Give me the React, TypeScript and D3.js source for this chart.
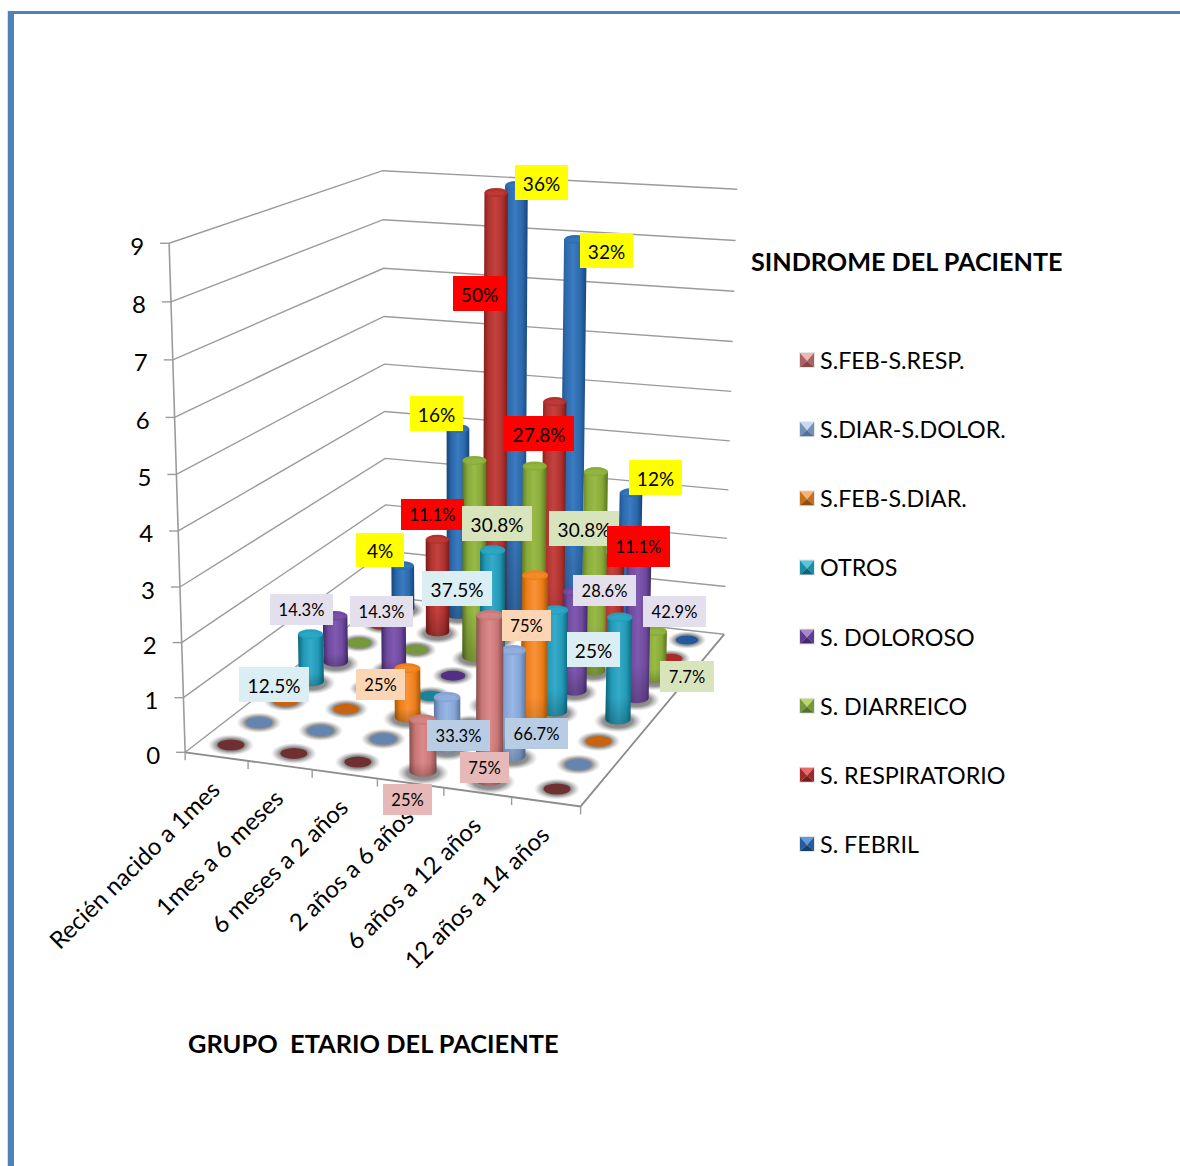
import React from "react";
import * as d3 from "d3";

// ---------- data ----------
const categories = ["Recién nacido a 1mes", "1mes a 6 meses", "6 meses a 2 años", "2 años a 6 años", "6 años a 12 años", "12 años a 14 años"];
const seriesNames = ["S.FEB-S.RESP.", "S.DIAR-S.DOLOR.", "S.FEB-S.DIAR.", "OTROS", "S. DOLOROSO", "S. DIARREICO", "S. RESPIRATORIO", "S. FEBRIL"];
const febResp = [0, 0, 0, 1, 3, 0];
const diarDolor = [0, 0, 0, 1, 2, 0];
const febDiar = [0, 0, 1, 0, 3, 0];
const otros = [1, 0, 0, 3, 2, 2];
const doloroso = [1, 1, 0, 0, 2, 3];
const diarreico = [0, 0, 4, 4, 4, 1];
const respiratorio = [0, 2, 9, 5, 2, 0];
const febril = [1, 4, 9, 8, 3, 0];
const seriesValues = [febResp, diarDolor, febDiar, otros, doloroso, diarreico, respiratorio, febril];
const yTicks = [0, 1, 2, 3, 4, 5, 6, 7, 8, 9];
const labelTexts = ["36%", "32%", "50%", "16%", "27.8%", "12%", "11.1%", "30.8%", "30.8%", "4%", "11.1%", "14.3%", "14.3%", "37.5%", "28.6%", "42.9%", "75%", "25%", "7.7%", "12.5%", "25%", "33.3%", "66.7%", "75%", "25%"];

// ---------- styles / layout ----------
const FONT = "Lato, Carlito, sans-serif";
const colors = [
  { dark: "#84504f", mid: "#c97675", light: "#dc8b8a", top: "#c87b7a", dot: "#6e3030" },
  { dark: "#5b769e", mid: "#85a5d6", light: "#98b7e6", top: "#86a5d4", dot: "#6485b0" },
  { dark: "#a85606", mid: "#ec7f18", light: "#f8923a", top: "#ee8018", dot: "#c8640f" },
  { dark: "#0e6579", mid: "#2299b6", light: "#35abc9", top: "#25a0bd", dot: "#17849b" },
  { dark: "#3f2867", mid: "#6f4a9e", light: "#8059b0", top: "#70489f", dot: "#512f85" },
  { dark: "#5a7420", mid: "#88aa38", light: "#99ba48", top: "#8aad38", dot: "#76973a" },
  { dark: "#781b19", mid: "#b0322f", light: "#c2423f", top: "#b5302d", dot: "#a92a28" },
  { dark: "#164577", mid: "#2b68ac", light: "#3c7bc0", top: "#2c6db3", dot: "#22599a" },
];
const legendColors = [
  ["#efb6b4", "#a86260", "#a86260", "#8a4644"],
  ["#c6d8f2", "#7390b8", "#7390b8", "#556f95"],
  ["#f8b070", "#c47018", "#c47018", "#8e4e10"],
  ["#58c4da", "#1a8ea8", "#1a8ea8", "#0f6478"],
  ["#a888cc", "#5f3d90", "#5f3d90", "#44296c"],
  ["#bcd668", "#76983a", "#76983a", "#56722a"],
  ["#e46c68", "#a02a28", "#a02a28", "#761c1a"],
  ["#609cdc", "#245c9c", "#245c9c", "#163f70"],
];
const YEL = "#ffff00", RED = "#ff0000", GRN = "#d8e4bc", PUR = "#e4dfec", TEA = "#daeef3", ORA = "#fcd5b4", BLU = "#b8cce4", PNK = "#e6b8b7";
// manually placed annotation boxes: x0, y0, x1, y1, fill, font size (same order as labelTexts)
const labelBoxes: [number, number, number, number, string, number][] = [
  [515, 165, 568, 200, YEL, 19], [580, 233, 633, 268, YEL, 19], [453, 276, 506, 311, RED, 19], [410, 396, 463, 431, YEL, 19],
  [504, 416, 574, 451, RED, 19], [629, 460, 682, 495, YEL, 19], [401, 499, 464, 530, RED, 16.5], [462, 506, 532, 541, GRN, 19],
  [549, 511, 619, 546, GRN, 19], [356, 533, 404, 567, YEL, 19], [607, 526, 670, 567, RED, 16.5], [270, 594, 333, 625, PUR, 16.5],
  [350, 596, 413, 627, PUR, 16.5], [422, 571, 492, 606, TEA, 19], [573, 575, 636, 606, PUR, 16.5], [643, 596, 706, 627, PUR, 16.5],
  [502, 610, 551, 641, ORA, 16.5], [567, 632, 620, 667, TEA, 19], [660, 661, 714, 692, GRN, 16.5], [239, 667, 309, 702, TEA, 19],
  [356, 669, 405, 700, ORA, 16.5], [427, 720, 490, 751, BLU, 16.5], [505, 718, 568, 749, BLU, 16.5], [460, 752, 509, 783, PNK, 16.5],
  [383, 784, 432, 815, PNK, 16.5],
];

// ---------- projection ----------
const nC = categories.length, nS = seriesNames.length;
const Q = { a: [231, 745], b: [557, 789], c: [687, 640], d: [403, 608] };
const dx1 = Q.b[0] - Q.c[0], dx2 = Q.d[0] - Q.c[0], sx = Q.a[0] - Q.b[0] + Q.c[0] - Q.d[0];
const dy1 = Q.b[1] - Q.c[1], dy2 = Q.d[1] - Q.c[1], sy = Q.a[1] - Q.b[1] + Q.c[1] - Q.d[1];
const den = dx1 * dy2 - dx2 * dy1;
const g = (sx * dy2 - dx2 * sy) / den, h = (dx1 * sy - sx * dy1) / den;
const uScale = d3.scaleLinear().domain([0, nC - 1]).range([0, 1]);
const wScale = d3.scaleLinear().domain([0, nS - 1]).range([0, 1]);
function floor(c: number, s: number): [number, number] {
  const u = uScale(c), v = wScale(s), w = g * u + h * v + 1;
  return [
    ((Q.b[0] - Q.a[0] + g * Q.b[0]) * u + (Q.d[0] - Q.a[0] + h * Q.d[0]) * v + Q.a[0]) / w,
    ((Q.b[1] - Q.a[1] + g * Q.b[1]) * u + (Q.d[1] - Q.a[1] + h * Q.d[1]) * v + Q.a[1]) / w,
  ];
}
const cMin = -0.5, cMax = nC - 0.5, sMin = -0.5, sMax = nS - 0.5;
const uEdge = d3.scaleLinear().domain([cMin, cMax]).range([0, 1]);
const wEdge = d3.scaleLinear().domain([sMin, sMax]).range([0, 1]);
// screen height of nine units, per corner of the floor
const H_FL = 509, H_FR = 530, H_BL = 426, H_BR = 445;
const VP = [463, 9570];
const TOP_INSET = 4; // px the cylinders' caps sit under their value level
const tScale = d3.scaleLinear().domain([0, 9]).range([0, 1]);
const warp = (t: number) => t / (1 + 0.04 * (1 - t));
function project(c: number, s: number, val: number, inset = 0): [number, number] {
  const [x0, y0] = floor(c, s);
  const u = uEdge(c), w = wEdge(s);
  const H = (H_FL * (1 - u) + H_FR * u) * (1 - w) + (H_BL * (1 - u) + H_BR * u) * w;
  const dy = H * warp(tScale(val)) - inset;
  return [x0 - (VP[0] - x0) * dy / (VP[1] - y0), y0 - dy];
}
const sizeAt = (s: number) => d3.scaleLinear().domain([0, nS - 1]).range([1, 0.84])(s);

const fmt = (p: [number, number][]) => d3.line()(p) as string;

function cylinderPath(x0: number, y0: number, x1: number, y1: number, rx: number, ry: number) {
  const p = d3.path();
  p.moveTo(x1 - rx, y1);
  p.lineTo(x0 - rx, y0);
  p.bezierCurveTo(x0 - rx, y0 + ry * 1.33, x0 + rx, y0 + ry * 1.33, x0 + rx, y0);
  p.lineTo(x1 + rx, y1);
  p.closePath();
  return p.toString();
}

export default function App() {
  const marks: React.ReactNode[] = [];
  d3.range(nS - 1, -1, -1).forEach((s) => {
    d3.range(nC).forEach((c) => {
      const val = seriesValues[s][c];
      const [x0, y0] = project(c, s, 0);
      const k = sizeAt(s);
      const col = colors[s];
      if (val === 0) {
        marks.push(
          <g key={`${s}-${c}`}>
            <ellipse cx={x0} cy={y0} rx={23 * k} ry={10.5 * k} fill="url(#shadow)" />
            <ellipse cx={x0} cy={y0} rx={13.5 * k} ry={5.5 * k} fill={col.dot} />
          </g>
        );
      } else {
        const [x1, y1] = project(c, s, val, TOP_INSET);
        const rx = 13.5 * k, ry = 5.5 * k;
        const path = cylinderPath(x0, y0, x1, y1, rx, ry);
        marks.push(
          <g key={`${s}-${c}`}>
            <ellipse cx={x0} cy={y0 + 2} rx={26 * k} ry={12 * k} fill="url(#shadow)" />
            <path d={path} fill={`url(#cyl${s})`} />
            <path d={path} fill="url(#shade)" />
            <ellipse cx={x1} cy={y1} rx={rx} ry={ry * 0.95} fill={col.top} />
            <ellipse cx={x1} cy={y1 + 0.5} rx={rx * 0.72} ry={ry * 0.55} fill={col.light} opacity={0.55} />
          </g>
        );
      }
    });
  });

  const walls = yTicks.map((v) => [project(cMin, sMin, v), project(cMin, sMax, v), project(cMax, sMax, v)] as [number, number][]);
  const GRID = "#9b9b9b";

  return (
    <svg width={1180} height={1166} style={{ position: "fixed", left: 0, top: 0, background: "#fff" }} fontFamily={FONT}>
      <defs>
        <radialGradient id="shadow">
          <stop offset="0%" stopColor="#6a6a6a" stopOpacity={0.95} />
          <stop offset="62%" stopColor="#808080" stopOpacity={0.85} />
          <stop offset="100%" stopColor="#aaaaaa" stopOpacity={0} />
        </radialGradient>
        <linearGradient id="shade" x1="0" x2="0" y1="0" y2="1">
          <stop offset="0%" stopColor="#000" stopOpacity={0} />
          <stop offset="75%" stopColor="#000" stopOpacity={0} />
          <stop offset="100%" stopColor="#000" stopOpacity={0.22} />
        </linearGradient>
        {colors.map((col, i) => (
          <linearGradient key={i} id={`cyl${i}`} x1="0" x2="1" y1="0" y2="0">
            <stop offset="0%" stopColor={col.dark} />
            <stop offset="22%" stopColor={col.mid} />
            <stop offset="50%" stopColor={col.light} />
            <stop offset="78%" stopColor={col.mid} />
            <stop offset="100%" stopColor={col.dark} />
          </linearGradient>
        ))}
      </defs>

      <rect x={7} y={11} width={1} height={1155} fill="#cfe0ee" />
      <rect x={8} y={11} width={6} height={1155} fill="#4f81bd" />
      <rect x={8} y={11} width={1172} height={3} fill="#4f81bd" />

      {walls.map((pts, i) => (
        <path key={i} d={fmt(pts)} fill="none" stroke={GRID} strokeWidth={1.4} />
      ))}
      <path d={fmt([project(cMin, sMin, 0), project(cMin, sMin, 9)])} stroke={GRID} strokeWidth={1.6} fill="none" />
      <path d={fmt([project(cMin, sMin, 0), project(cMax, sMin, 0), project(cMax, sMax, 0)])} stroke="#8c8c8c" strokeWidth={1.8} fill="none" />
      {d3.range(cMin, cMax + 0.5, 1).map((c) => {
        const [x, y] = project(c, sMin, 0);
        return <line key={c} x1={x} x2={x} y1={y} y2={y + 8} stroke={GRID} strokeWidth={1.4} />;
      })}
      {yTicks.map((v) => {
        const [x, y] = project(cMin, sMin, v);
        return (
          <g key={v}>
            <line x1={x - 9} x2={x} y1={y} y2={y} stroke={GRID} strokeWidth={1.4} />
            <text x={x - 25} y={y + 2} textAnchor="end" dominantBaseline="central" fontSize={24} fill="#000">{v}</text>
          </g>
        );
      })}
      {categories.map((t, c) => {
        const [x, y] = project(c, sMin, 0);
        return (
          <text key={t} transform={`translate(${x + 5},${y + 35}) rotate(-44.5)`} textAnchor="end" fontSize={24} fill="#000">{t}</text>
        );
      })}

      {marks}

      {labelTexts.map((t, i) => {
        const [x0, y0, x1, y1, fill, fs] = labelBoxes[i];
        return (
          <g key={i}>
            <rect x={x0} y={y0} width={x1 - x0} height={y1 - y0} fill={fill} />
            <text x={(x0 + x1) / 2} y={(y0 + y1) / 2 + 0.5} textAnchor="middle" dominantBaseline="central" fontSize={fs} fill="#000">{t}</text>
          </g>
        );
      })}

      <text x={751} y={271} fontSize={25.2} fontWeight={700} fill="#000">SINDROME DEL PACIENTE</text>
      <text x={188} y={1053} fontSize={25.4} fontWeight={700} fill="#000" xmlSpace="preserve">GRUPO  ETARIO DEL PACIENTE</text>

      {seriesNames.map((name, i) => {
        const y = d3.scaleLinear().domain([0, nS - 1]).range([360, 844])(i);
        const x0 = 800, x1 = 814, y0 = y - 7, y1 = y + 7, mx = 807, my = y + 1;
        const [t, r, l, b] = legendColors[i];
        return (
          <g key={name}>
            <rect x={x0 - 1} y={y0 - 1} width={16} height={16} fill="#e6e6e6" />
            <path d={fmt([[x0, y0], [x1, y0], [mx, my]])} fill={t} />
            <path d={fmt([[x0, y0], [mx, my], [x0, y1]])} fill={l} />
            <path d={fmt([[x1, y0], [mx, my], [x1, y1]])} fill={r} />
            <path d={fmt([[x0, y1], [mx, my], [x1, y1]])} fill={b} />
            <text x={820} y={y} dominantBaseline="central" fontSize={23.3} fill="#000">{name}</text>
          </g>
        );
      })}
    </svg>
  );
}
